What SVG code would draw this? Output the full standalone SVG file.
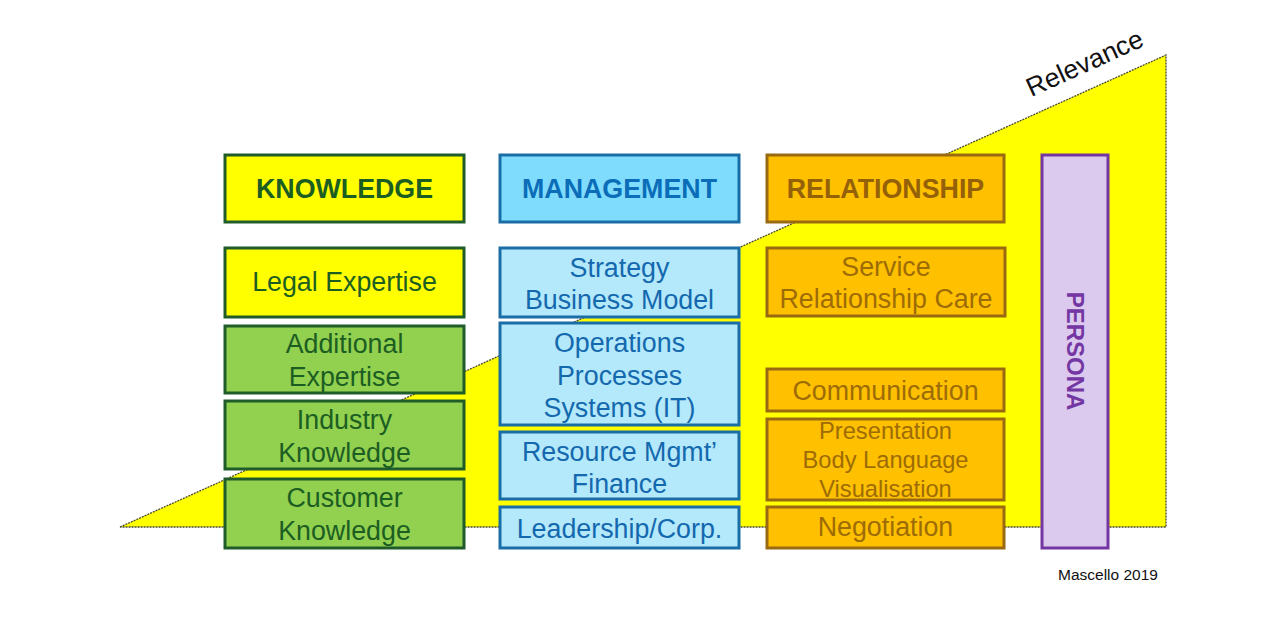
<svg xmlns="http://www.w3.org/2000/svg" width="1262" height="638" viewBox="0 0 1262 638">
<style>
text{font-family:"Liberation Sans",Arial,sans-serif;text-anchor:middle}
.k rect{fill:#92D050;stroke:#1F5C2A;stroke-width:3}
.k text{fill:#1C5E22;font-size:26.8px}
.kh rect{fill:#FFFF00}
.kh text{font-weight:bold}
.m rect{fill:#B3E9FB;stroke:#1B6DA6;stroke-width:3}
.m text{fill:#1468AE;font-size:26.8px}
.mh rect{fill:#7FDCFD}
.mh text{font-weight:bold;fill:#0B6DB8}
.r rect{fill:#FFC000;stroke:#9A6A12;stroke-width:3}
.r text{fill:#9E6C06;font-size:26.8px}
.r text.sm{font-size:23.7px}
.rh text{font-weight:bold;fill:#946108}
.p rect{fill:#DCC9EE;stroke:#7336A2;stroke-width:3}
.p text{fill:#7336A2;font-size:24px;font-weight:bold}
</style>
<rect width="1262" height="638" fill="#ffffff"/>
<g id="relevance">
<polygon points="120,527 1166,55 1166,527" fill="#FFFF00" stroke="#4a4a30" stroke-width="1.3" stroke-dasharray="2,1"/>
<text x="1085" y="72" transform="rotate(-24.5 1085 64)" font-size="26.5" fill="#111">Relevance</text>
</g>
<g id="connectors"></g>
<g id="knowledge" class="k kh"><rect x="225" y="155" width="239" height="67"/><text x="344.5" y="198">KNOWLEDGE</text></g>
<g id="legal" class="k kh"><rect x="225" y="248" width="239" height="69"/><text x="344.5" y="291" style="font-weight:normal">Legal Expertise</text></g>
<g id="additional" class="k"><rect x="225" y="326" width="239" height="67"/><text x="344.5" y="353">Additional</text><text x="344.5" y="386">Expertise</text></g>
<g id="industry" class="k"><rect x="225" y="401" width="239" height="68"/><text x="344.5" y="429">Industry</text><text x="344.5" y="462">Knowledge</text></g>
<g id="customer" class="k"><rect x="225" y="479" width="239" height="69"/><text x="344.5" y="507">Customer</text><text x="344.5" y="540">Knowledge</text></g>

<g id="management" class="m mh"><rect x="500" y="155" width="239" height="67"/><text x="619.5" y="198">MANAGEMENT</text></g>
<g id="strategy" class="m"><rect x="500" y="248" width="239" height="69"/><text x="619.5" y="277">Strategy</text><text x="619.5" y="309">Business Model</text></g>
<g id="operations" class="m"><rect x="500" y="323" width="239" height="102"/><text x="619.5" y="352">Operations</text><text x="619.5" y="385">Processes</text><text x="619.5" y="417">Systems (IT)</text></g>
<g id="resource" class="m"><rect x="500" y="432" width="239" height="67"/><text x="619.5" y="461">Resource Mgmt’</text><text x="619.5" y="493">Finance</text></g>
<g id="leadership" class="m"><rect x="500" y="507" width="239" height="41"/><text x="619.5" y="538">Leadership/Corp.</text></g>

<g id="relationship" class="r rh"><rect x="767" y="155" width="237" height="67"/><text x="885.5" y="198">RELATIONSHIP</text></g>
<g id="service" class="r"><rect x="767" y="248" width="238" height="68"/><text x="886" y="276">Service</text><text x="886" y="308">Relationship Care</text></g>
<g id="communication" class="r"><rect x="767" y="369" width="237" height="42"/><text x="885.5" y="400">Communication</text></g>
<g id="presentation" class="r"><rect x="767" y="419" width="237" height="81"/><text class="sm" x="885.5" y="439">Presentation</text><text class="sm" x="885.5" y="468">Body Language</text><text class="sm" x="885.5" y="497">Visualisation</text></g>
<g id="negotiation" class="r"><rect x="767" y="507" width="237" height="41"/><text x="885.5" y="536">Negotiation</text></g>

<g id="persona" class="p"><rect x="1042" y="155" width="66" height="393"/><text x="1075" y="351" transform="rotate(90 1075 351)" dy="8.5">PERSONA</text></g>

<text x="1108" y="580" font-size="15.5" fill="#111">Mascello 2019</text>
</svg>
